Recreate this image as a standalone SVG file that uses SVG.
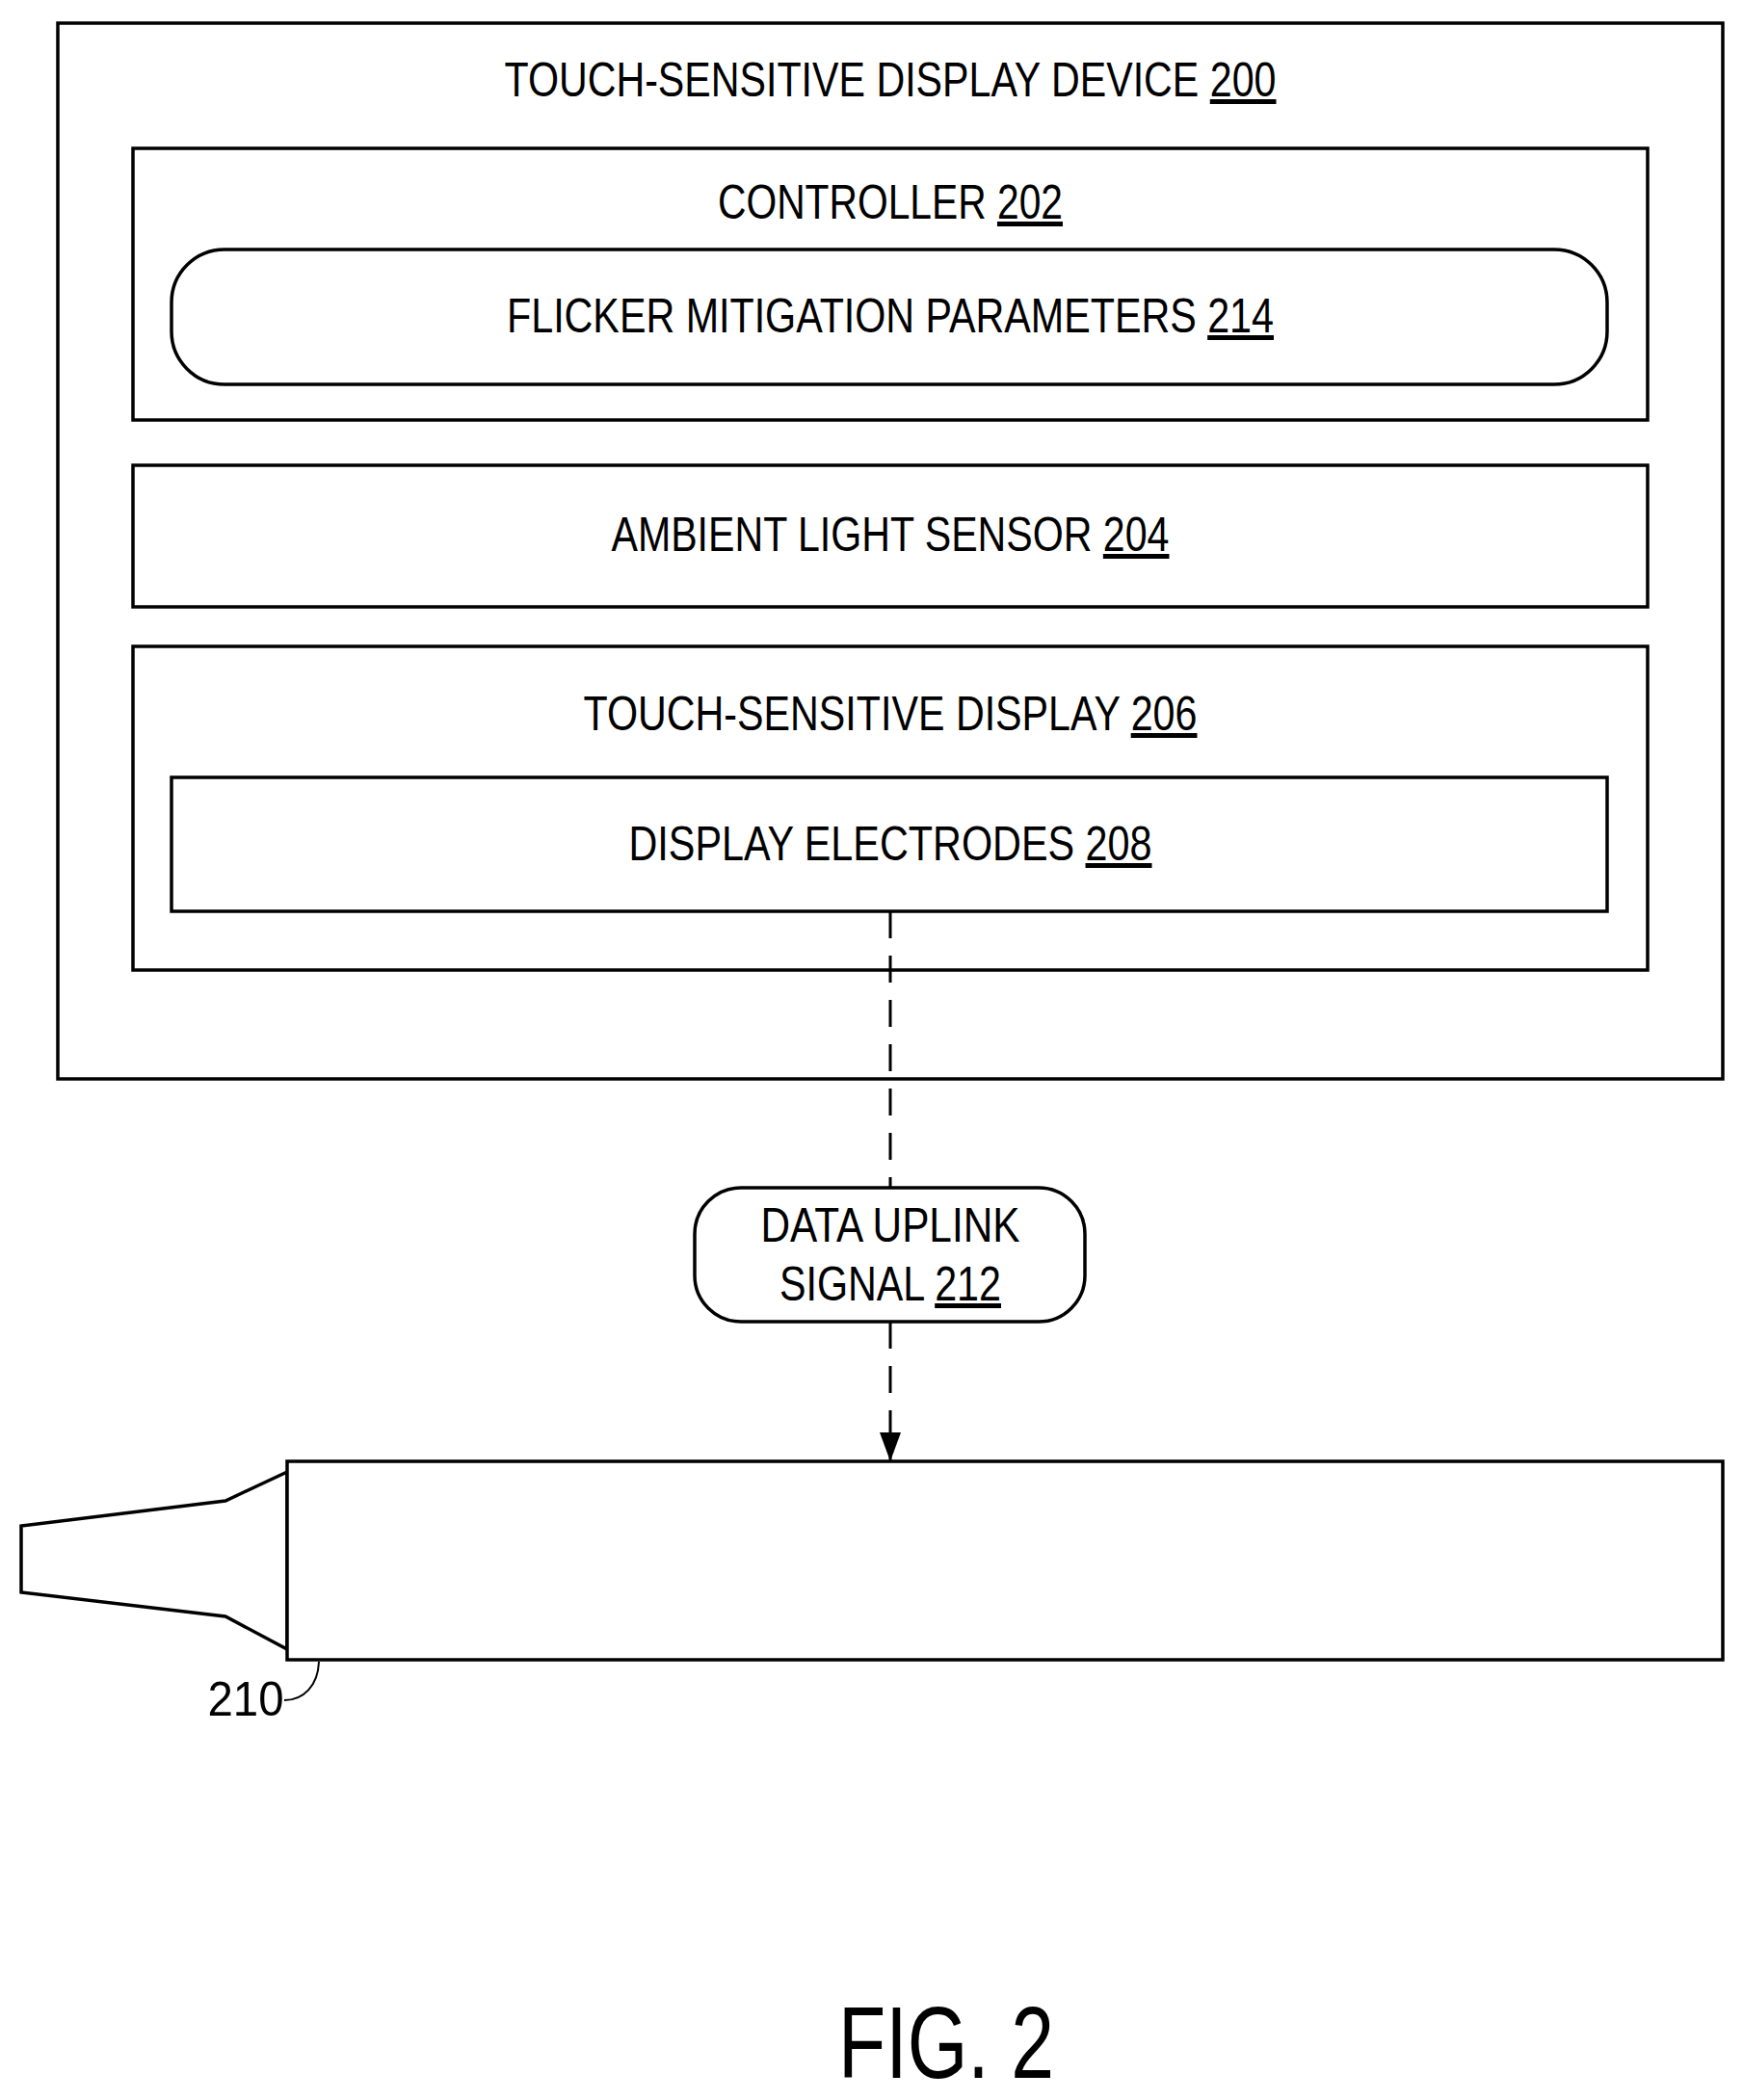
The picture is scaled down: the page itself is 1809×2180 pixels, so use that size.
<svg xmlns="http://www.w3.org/2000/svg" width="1809" height="2180" viewBox="0 0 1809 2180">
<style>
.b{fill:#fff;stroke:#000;stroke-width:3.5}
.t{font-family:"Liberation Sans",Arial,sans-serif;font-size:50px;fill:#000;text-anchor:middle}
.u{text-decoration:underline}
</style>
<defs><marker id="ah" markerWidth="10" markerHeight="10" refX="9" refY="5" orient="auto" markerUnits="userSpaceOnUse" viewBox="0 0 10 10"><path d="M0,0 L10,5 L0,10 z" fill="#000"/></marker>
<marker id="a" markerWidth="30" markerHeight="30" refX="30" refY="15" orient="auto" markerUnits="userSpaceOnUse"><path d="M0,4 L30,15 L0,26 z" fill="#000"/></marker></defs>
<rect width="1809" height="2180" fill="#fff"/>
<g id="device200"><rect class="b" x="60" y="24" width="1728" height="1096"/>
<text class="t" x="924" y="100" textLength="801" lengthAdjust="spacingAndGlyphs">TOUCH-SENSITIVE DISPLAY DEVICE <tspan class="u">200</tspan></text></g>
<g id="controller202"><rect class="b" x="138" y="154" width="1572" height="282"/>
<text class="t" x="924" y="227" textLength="358" lengthAdjust="spacingAndGlyphs">CONTROLLER <tspan class="u">202</tspan></text></g>
<g id="flicker214"><rect class="b" x="178" y="259" width="1490" height="140" rx="55"/>
<text class="t" x="924" y="345" textLength="796" lengthAdjust="spacingAndGlyphs">FLICKER MITIGATION PARAMETERS <tspan class="u">214</tspan></text></g>
<g id="ambient204"><rect class="b" x="138" y="483" width="1572" height="147"/>
<text class="t" x="924" y="572" textLength="579" lengthAdjust="spacingAndGlyphs">AMBIENT LIGHT SENSOR <tspan class="u">204</tspan></text></g>
<g id="display206"><rect class="b" x="138" y="671" width="1572" height="336"/>
<text class="t" x="924" y="758" textLength="637" lengthAdjust="spacingAndGlyphs">TOUCH-SENSITIVE DISPLAY <tspan class="u">206</tspan></text></g>
<g id="electrodes208"><rect class="b" x="178" y="807" width="1490" height="139"/>
<text class="t" x="924" y="893" textLength="543" lengthAdjust="spacingAndGlyphs">DISPLAY ELECTRODES <tspan class="u">208</tspan></text></g>
<g id="connectors">
<line x1="924" y1="946" x2="924" y2="1233" stroke="#000" stroke-width="3" stroke-dasharray="28,18"/>
<line x1="924" y1="1372" x2="924" y2="1517" stroke="#000" stroke-width="3" stroke-dasharray="28,18" marker-end="url(#a)"/>
</g>
<g id="uplink212"><rect class="b" x="721" y="1233" width="405" height="139" rx="48"/>
<text class="t" x="924" y="1289" textLength="269" lengthAdjust="spacingAndGlyphs">DATA UPLINK</text>
<text class="t" x="924" y="1350" textLength="230" lengthAdjust="spacingAndGlyphs">SIGNAL <tspan class="u">212</tspan></text></g>
<g id="stylus210">
<polygon class="b" points="298,1528 234,1558 22,1584 22,1653 234,1678 298,1712"/>
<rect class="b" x="298" y="1517" width="1490" height="206"/>
<path d="M295,1765 C315,1765 330,1750 331,1725" fill="none" stroke="#000" stroke-width="2"/>
<text class="t" x="255" y="1781" textLength="79" lengthAdjust="spacingAndGlyphs">210</text>
</g>
<text class="t" x="982" y="2157" style="font-size:105px" textLength="224" lengthAdjust="spacingAndGlyphs">FIG. 2</text>
</svg>
